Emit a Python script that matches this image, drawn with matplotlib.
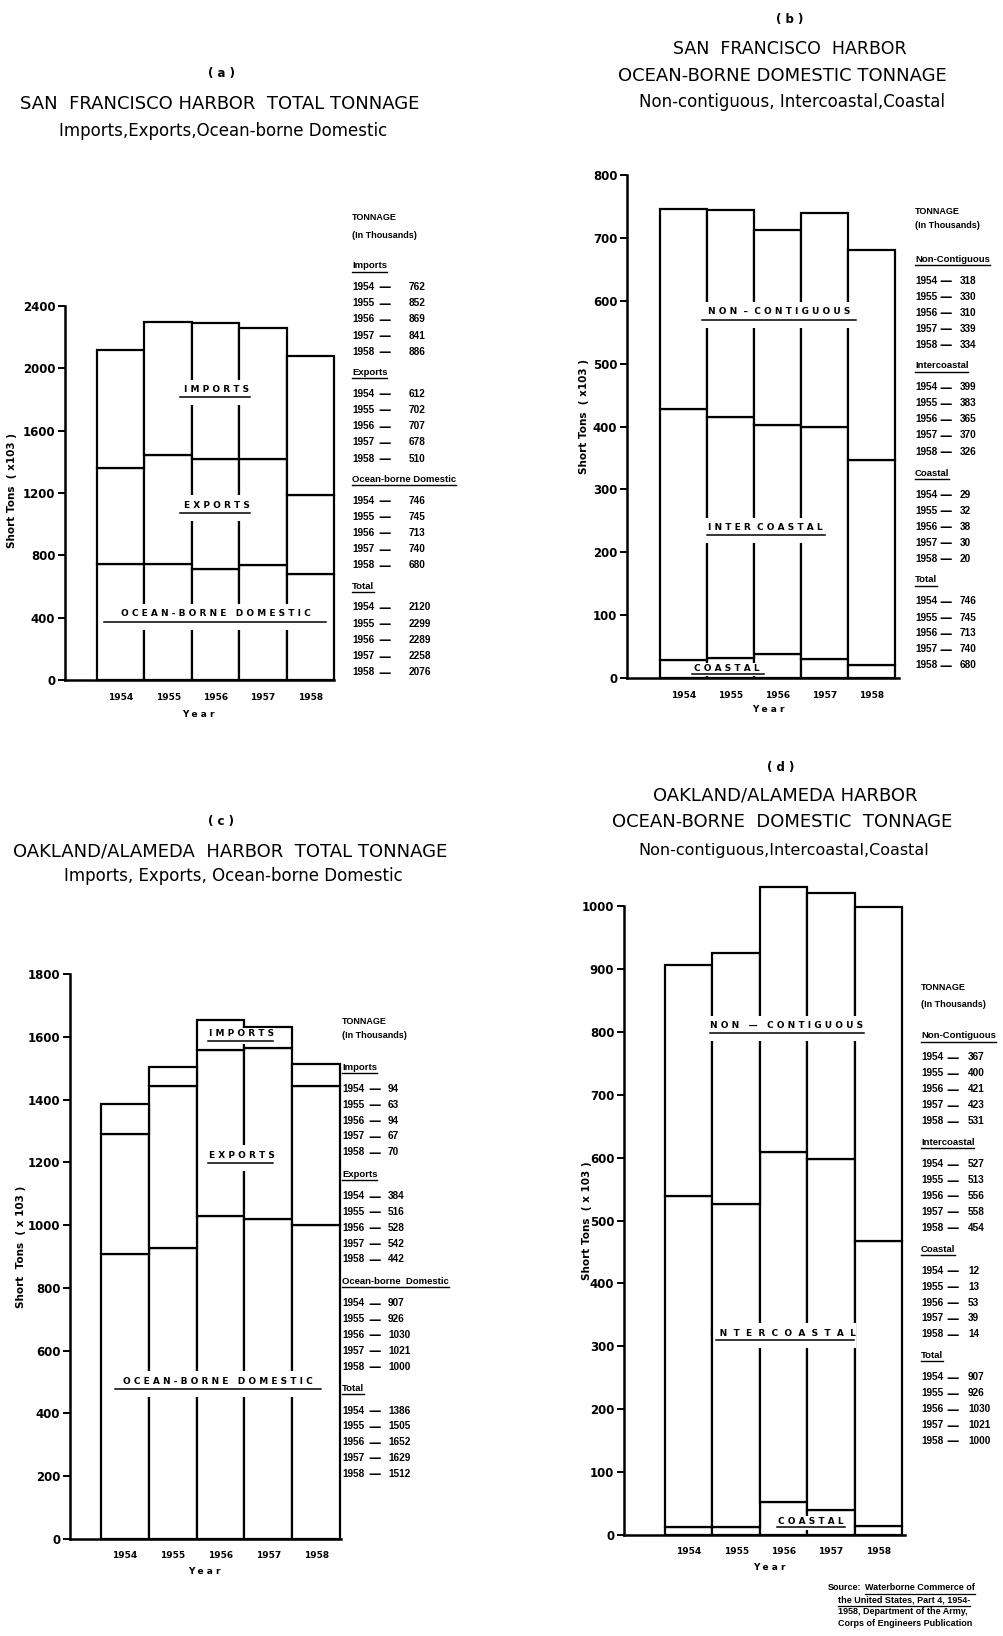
import matplotlib
matplotlib.use('Agg')
import matplotlib.pyplot as plt
from matplotlib.patches import Rectangle
from matplotlib.lines import Line2D
import numpy as np

plt.rcParams['font.family'] = ['DejaVu Sans']

W, H = 1004, 1636
TAB_FONT = ['Liberation Sans', 'DejaVu Sans']

years = [1954, 1955, 1956, 1957, 1958]

# San Francisco harbor, total tonnage (thousand short tons)
sf_imports = [762, 852, 869, 841, 886]
sf_exports = [612, 702, 707, 678, 510]
sf_domestic = [746, 745, 713, 740, 680]
sf_total = [2120, 2299, 2289, 2258, 2076]

# San Francisco harbor, ocean-borne domestic
sf_noncontig = [318, 330, 310, 339, 334]
sf_intercoastal = [399, 383, 365, 370, 326]
sf_coastal = [29, 32, 38, 30, 20]
sf_dom_total = [746, 745, 713, 740, 680]

# Oakland/Alameda harbor, total tonnage
oak_imports = [94, 63, 94, 67, 70]
oak_exports = [384, 516, 528, 542, 442]
oak_domestic = [907, 926, 1030, 1021, 1000]
oak_total = [1386, 1505, 1652, 1629, 1512]

# Oakland/Alameda harbor, ocean-borne domestic
oak_noncontig = [367, 400, 421, 423, 531]
oak_intercoastal = [527, 513, 556, 558, 454]
oak_coastal = [12, 13, 53, 39, 14]
oak_dom_total = [907, 926, 1030, 1021, 1000]

fig = plt.figure(figsize=(W / 100, H / 100), dpi=100)
renderer = fig.canvas.get_renderer()


def fx(x):
    return x / W


def fy(y):
    return 1 - y / H


def put(x, y, s, size, weight='normal', ha='center', **kw):
    return fig.text(fx(x), fy(y), s, fontsize=size, fontweight=weight,
                    ha=ha, va='center', zorder=5, **kw)


def underline(t, dy=5, lw=1.0):
    bb = t.get_window_extent(renderer)
    y = bb.y0 - dy + 4
    fig.add_artist(Line2D([bb.x0 / W, bb.x1 / W], [y / H, y / H],
                          transform=fig.transFigure, color='black',
                          lw=lw, zorder=6))


def chart(left, right, top, bottom, bar_left, bar_right, ymax, step, layers):
    ax = fig.add_axes([fx(left), fy(bottom), (right - left) / W, (bottom - top) / H])
    bw = (bar_right - bar_left) / 5
    ax.set_xlim(-0.5 - (bar_left - left) / bw, 4.5 + (right - bar_right) / bw)
    ax.set_ylim(0, ymax)
    base = np.zeros(5)
    for vals in layers:
        ax.bar(range(5), vals, width=1.0, bottom=base, facecolor='white',
               edgecolor='black', linewidth=1.6, clip_on=False, zorder=2)
        base = base + np.array(vals)
    for s in ['top', 'right']:
        ax.spines[s].set_visible(False)
    for s in ['left', 'bottom']:
        ax.spines[s].set_linewidth(1.8)
    ax.spines['left'].set_bounds(0, ymax)
    ax.set_yticks(np.arange(0, ymax + 1, step))
    ax.set_xticks(range(5), labels=[str(y) for y in years])
    ax.tick_params(axis='y', length=5, width=1.4, pad=2, labelsize=8.5)
    ax.tick_params(axis='x', length=0, pad=9, labelsize=6.5)
    for lab in ax.get_yticklabels() + ax.get_xticklabels():
        lab.set_fontweight('bold')
    ax.patch.set_visible(False)
    return ax


def tag(x, y, s, line_y, x0, x1, gap_top=10, gap_bot=8):
    # white gap through the bar edges, then the spaced caption and its rule
    fig.add_artist(Rectangle((fx(x0 - 2), fy(line_y + gap_bot)), (x1 - x0 + 4) / W,
                             (line_y + gap_bot - (y - gap_top)) / H,
                             transform=fig.transFigure, facecolor='white',
                             edgecolor='none', zorder=4))
    put(x, y, s, 6.5, 'bold')
    fig.add_artist(Line2D([fx(x0), fx(x1)], [fy(line_y), fy(line_y)],
                          transform=fig.transFigure, color='black', lw=1.1, zorder=6))


def table(x_year, x_dash, x_val, y_head, y_start, step, gap, sections):
    put(x_year, y_head[0], 'TONNAGE', 6.5, 'bold', ha='left', family=TAB_FONT)
    put(x_year, y_head[1], '(In Thousands)', 6.5, 'bold', ha='left', family=TAB_FONT)
    y = y_start
    for name, vals in sections:
        t = put(x_year, y, name, 6.8, 'bold', ha='left', family=TAB_FONT)
        underline(t)
        y += gap
        for yr, v in zip(years, vals):
            put(x_year, y, str(yr), 7.2, 'bold', ha='left', family=TAB_FONT)
            put(x_dash, y + 1, '—', 9, 'bold')
            put(x_val, y, str(v), 7.2, 'bold', ha='left', family=TAB_FONT)
            y += step
        y += gap - step


# (a) San Francisco total tonnage
put(222, 73, '( a )', 8.5, 'bold')
put(220, 104, 'SAN  FRANCISCO HARBOR  TOTAL TONNAGE', 13)
put(223, 131, 'Imports,Exports,Ocean-borne Domestic', 12)
chart(65, 334, 306, 680, 97, 334, 2400, 400,
      [sf_domestic, sf_exports, sf_imports])
put(12, 490, 'Short Tons  ( x103 )', 7.5, 'bold', rotation=90)
put(198, 714, 'Y e a r', 6.5, 'bold')
tag(217, 390, 'I M P O R T S', 397, 180, 250)
tag(217, 505, 'E X P O R T S', 513, 180, 250)
tag(216, 614, 'O C E A N - B O R N E   D O M E S T I C', 622, 104, 326)
table(352, 385, 409, (217, 235), 266, 16.2, 21,
      [('Imports', sf_imports), ('Exports', sf_exports),
       ('Ocean-borne Domestic', sf_domestic), ('Total', sf_total)])

# (b) San Francisco ocean-borne domestic
put(790, 20, '( b )', 8.5, 'bold')
put(790, 49, 'SAN  FRANCISCO  HARBOR', 12.5)
put(782, 76, 'OCEAN-BORNE DOMESTIC TONNAGE', 13)
put(792, 102, 'Non-contiguous, Intercoastal,Coastal', 12)
chart(627, 899, 175, 678, 660, 895, 800, 100,
      [sf_coastal, sf_intercoastal, sf_noncontig])
put(584, 417, 'Short Tons  ( x103 )', 7.5, 'bold', rotation=90)
put(768, 709, 'Y e a r', 6.5, 'bold')
tag(779, 312, 'N O N  –  C O N T I G U O U S', 320, 702, 856)
tag(765, 528, 'I N T E R  C O A S T A L', 535, 707, 825)
tag(727, 668, 'C O A S T A L', 674, 692, 764, gap_top=5, gap_bot=2)
table(915, 946, 960, (211, 226), 259, 16, 21.5,
      [('Non-Contiguous', sf_noncontig), ('Intercoastal', sf_intercoastal),
       ('Coastal', sf_coastal), ('Total', sf_dom_total)])

# (c) Oakland/Alameda total tonnage
put(221, 821, '( c )', 8.5, 'bold')
put(230, 851, 'OAKLAND/ALAMEDA  HARBOR  TOTAL TONNAGE', 13)
put(233, 876, 'Imports, Exports, Ocean-borne Domestic', 12)
chart(70, 341, 974, 1539, 101, 340, 1800, 200,
      [oak_domestic, oak_exports, oak_imports])
put(21, 1247, 'Short  Tons  ( x 103 )', 7.5, 'bold', rotation=90)
put(204, 1572, 'Y e a r', 6.5, 'bold')
tag(242, 1034, 'I M P O R T S', 1041, 208, 273, gap_top=6, gap_bot=3)
tag(242, 1155, 'E X P O R T S', 1163, 208, 273)
tag(218, 1381, 'O C E A N - B O R N E   D O M E S T I C', 1389, 115, 321)
table(342, 375, 388, (1022, 1036), 1067, 15.8, 22,
      [('Imports', oak_imports), ('Exports', oak_exports),
       ('Ocean-borne  Domestic', oak_domestic), ('Total', oak_total)])

# (d) Oakland/Alameda ocean-borne domestic
put(781, 767, '( d )', 8.5, 'bold')
put(785, 795, 'OAKLAND/ALAMEDA HARBOR', 13)
put(782, 822, 'OCEAN-BORNE  DOMESTIC  TONNAGE', 13)
put(784, 850, 'Non-contiguous,Intercoastal,Coastal', 11.5)
chart(624, 905, 906, 1535, 665, 902, 1000, 100,
      [oak_coastal, oak_intercoastal, oak_noncontig])
put(587, 1221, 'Short Tons  ( x 103 )', 7.5, 'bold', rotation=90)
put(769, 1567, 'Y e a r', 6.5, 'bold')
tag(787, 1026, 'N O N   —   C O N T I G U O U S', 1033, 710, 864)
tag(783, 1333, 'I  N  T  E  R  C  O  A  S  T  A  L', 1340, 716, 854)
tag(811, 1521, 'C O A S T A L', 1527, 777, 845, gap_top=5, gap_bot=3)
table(921, 953, 968, (988, 1005), 1036, 15.9, 21.5,
      [('Non-Contiguous', oak_noncontig), ('Intercoastal', oak_intercoastal),
       ('Coastal', oak_coastal), ('Total', oak_dom_total)])

# source note, bottom right
src = put(828, 1588, 'Source:', 6.5, 'bold', ha='left', family=TAB_FONT)
x_src = src.get_window_extent(renderer).x1 + 4
t1 = put(x_src, 1588, 'Waterborne Commerce of', 6.5, 'bold', ha='left', family=TAB_FONT)
t2 = put(838, 1600, 'the United States, Part 4, 1954-', 6.5, 'bold', ha='left', family=TAB_FONT)
put(838, 1612, '1958, Department of the Army,', 6.5, 'bold', ha='left', family=TAB_FONT)
put(838, 1624, 'Corps of Engineers Publication', 6.5, 'bold', ha='left', family=TAB_FONT)
underline(t1, lw=0.9)
underline(t2, lw=0.9)

fig.savefig('out.png', dpi=100, facecolor='white')
